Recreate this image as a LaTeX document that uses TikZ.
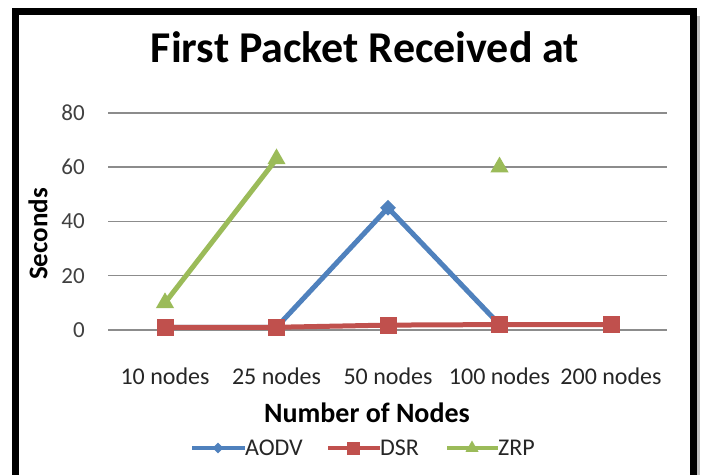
\documentclass[tikz,border=0pt]{standalone}
\usepackage{fontspec}
\setmainfont{Carlito}
\usepackage{xcolor}
\usetikzlibrary{positioning,shapes.geometric}
\definecolor{aodvblue}{HTML}{4F81BD}
\definecolor{dsrred}{HTML}{C0504D}
\definecolor{zrpgreen}{HTML}{9BBB59}
\definecolor{gridgray}{HTML}{8C8C8C}
\tikzset{%
	frame/.style     = {draw=black, line width=7pt}, % Border
	gridline/.style  = {draw=gridgray, line width=1.5pt},
	ticklabel/.style = {anchor=east, inner sep=0pt, text=black!75, font=\fontsize{23}{23}\selectfont},
	catlabel/.style  = {inner sep=0pt, text=black!85, font=\fontsize{24}{24}\selectfont},
	axistitle/.style = {inner sep=0pt, font=\bfseries\fontsize{27}{27}\selectfont},
	legtext/.style   = {anchor=west, inner sep=0pt, text=black!85, font=\fontsize{24}{24}\selectfont},
	series/.style    = {line width=5pt, line join=round},
	legline/.style   = {line width=4pt},
	aodvmark/.style  = {diamond, fill=aodvblue, minimum size=16pt, inner sep=0pt},
	dsrmark/.style   = {rectangle, fill=dsrred, minimum size=17pt, inner sep=0pt},
	zrpmark/.style   = {regular polygon, regular polygon sides=3, fill=zrpgreen, minimum size=21pt, inner sep=0pt},
}

\begin{document}
\begin{tikzpicture}[x=1pt,y=1pt]
	\useasboundingbox (0,0) rectangle (708,474);
	\fill[white] (0,0) rectangle (708,474);
	\draw[black!25, line width=3pt] (698.5,458) -- (698.5,-10);
	\draw[frame] (15.5,-10) -- (15.5,462.5) -- (693.5,462.5) -- (693.5,-10);
	
	\node[inner sep=0pt, anchor=base, font=\bfseries\fontsize{44}{44}\selectfont] (title) at (365,411) {First Packet Received at};
	
	% grid and value axis
	\foreach \v [count=\k from 0] in {0,20,40,60,80} {
		\draw[gridline] (108,144+\k*54.3) -- (667,144+\k*54.3);
		\node[ticklabel] (tick\v) at (85,144+\k*54.3) {\v};
	}
	\node[axistitle, rotate=90] (ytitle) at (38,240) {Seconds};
	
	% categories
	\foreach \c [count=\i] in {10,25,50,100,200}
		\node[catlabel] (cat\i) at (53.5+111.5*\i,98) {\c\ nodes};
	\node[axistitle, font=\bfseries\fontsize{28}{28}\selectfont] (xtitle) at (367,61) {Number of Nodes};
	
	% data points
	\foreach \v [count=\i] in {1,1,45,2}
		\coordinate (aodv\i) at (53.5+111.5*\i,144+2.715*\v);
	\foreach \v [count=\i] in {1,1,1.8,2,2}
		\coordinate (dsr\i) at (53.5+111.5*\i,144+2.715*\v);
	\coordinate (zrp1) at (165,144+2.715*10);
	\coordinate (zrp2) at (276.5,144+2.715*63);
	\coordinate (zrp4) at (499.5,144+2.715*60);
	
	\draw[series, aodvblue] (aodv1) -- (aodv2) -- (aodv3) -- (aodv4);
	\foreach \i in {1,...,4}
		\node[aodvmark] (aodvpt\i) at (aodv\i) {};
	\draw[series, dsrred] (dsr1) -- (dsr2) -- (dsr3) -- (dsr4) -- (dsr5);
	\foreach \i in {1,...,5}
		\node[dsrmark] (dsrpt\i) at (dsr\i) {};
	\draw[series, zrpgreen] (zrp1) -- (zrp2);
	\foreach \i in {1,2,4}
		\node[zrpmark] (zrppt\i) at (zrp\i) {};
	
	% legend
	\node[legtext] (legaodv) at (245,26) {AODV};
	\node[legtext] (legdsr) at (380,26) {DSR};
	\node[legtext] (legzrp) at (498,26) {ZRP};
	\coordinate (legaodvL) at (192,26);
	\coordinate (legdsrL) at (328,26);
	\coordinate (legzrpL) at (447,26);
	\draw[legline, aodvblue] (legaodvL) -- (legaodv.west);
	\draw[legline, dsrred] (legdsrL) -- (legdsr.west);
	\draw[legline, zrpgreen] (legzrpL) -- (legzrp.west);
	\node[aodvmark, minimum size=11pt] (legaodvpt) at (218,26) {};
	\node[dsrmark, minimum size=13pt] (legdsrpt) at (353,26) {};
	\node[zrpmark, minimum size=15pt] (legzrppt) at (472,26) {};
\end{tikzpicture}
\end{document}
